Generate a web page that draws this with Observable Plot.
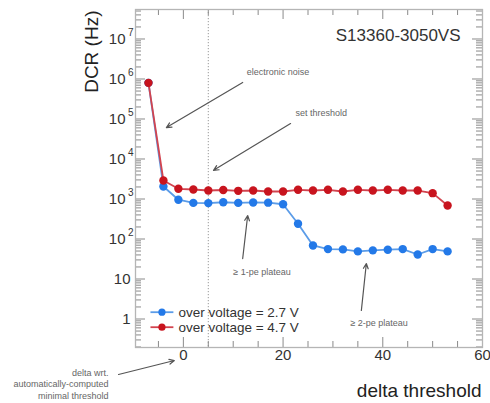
<!DOCTYPE html>
<html><head><meta charset="utf-8">
<script src="https://cdn.jsdelivr.net/npm/d3@7"></script>
<script src="https://cdn.jsdelivr.net/npm/@observablehq/plot@0.6"></script>
<style>html,body{margin:0;padding:0;background:#fff;} #chart{width:490px;height:403px;}</style>
</head><body><div id="chart"></div>
<script>
// ---- data ----
const thresholds = [-7,-4,-1,2,5,8,11,14,17,20,23,26,29,32,35,38,41,44,47,50,53];
const dcr27 = [8e5,2050,960,800,790,830,800,820,810,740,240,69,56,55,49,52,54,56,41,56,49];
const dcr47 = [8e5,2900,1800,1730,1630,1680,1600,1630,1540,1540,1700,1630,1700,1540,1700,1630,1700,1630,1630,1400,690];
const seriesNames = ["over voltage = 2.7 V","over voltage = 4.7 V"];
const xMajorTicks = [0,20,40,60];
const xMinorTicks = [-5,5,10,15,25,30,35,45,50,55];
const yMajorTicks = [1,10,100,1e3,1e4,1e5,1e6,1e7];
const yTickBase = ["1","10","10","10","10","10","10","10"];
const yTickExp = ["","","2","3","4","5","6","7"];
const setThreshold = [5];

// ---- annotations (data coordinates) ----
const notesStart = [
  {x:12.7, y:1.45e6, text:"electronic noise"},
  {x:22.5, y:1.37e5, text:"set threshold"},
  {x:10.0, y:14.5, text:"\u2265 1-pe plateau"},
  {x:33.5, y:0.785, text:"\u2265 2-pe plateau"}
];
const notesEnd = [
  {x:-15.0, y:0.0244, text:"delta wrt.\nautomatically-computed\nminimal threshold"}
];
const arrows = [
  {x1:11.9, y1:8.2e5, x2:-3.4, y2:6.1e4},
  {x1:21.5, y1:7.7e4, x2:6.05, y2:5.2e3},
  {x1:11.9, y1:32.5, x2:12.9, y2:387},
  {x1:35.7, y1:1.63, x2:36.7, y2:24.4},
  {x1:-13.0, y1:0.041, x2:-1.8, y2:0.0918}
];
const legendRows = [
  {y:1.48, name:seriesNames[0], line:"#5b9ce8", dot:"#2379e8"},
  {y:0.624, name:seriesNames[1], line:"#d2444f", dot:"#c8141e"}
];

const W=490, H=403, mL=135, mT=9, mR=8, mB=56;
const fw = W-mL-mR, fh = H-mT-mB;
const yMinor = [];
for (let e=-1; e<=7; e++) for (let m=2; m<=9; m++) { const v=m*Math.pow(10,e); if (v>0.194 && v<5.46e7) yMinor.push(v); }

const tickCol = "#8a8a8a";
const chart = Plot.plot({
  width: W, height: H,
  marginLeft: mL, marginTop: mT, marginRight: mR, marginBottom: mB,
  style: {fontFamily: "'Liberation Sans', Arial, Helvetica, sans-serif", background: "#fff"},
  x: {domain: [-9.6, 60], axis: null},
  y: {type: "log", domain: [0.194, 5.46e7], axis: null},
  marks: [
    Plot.ruleX(setThreshold, {x: d=>d, stroke: "#9a9a9a", strokeDasharray: "1.2,1.8", strokeWidth: 1}),
    // ticks (inward, mirrored)
    Plot.tickX(xMajorTicks, {x: d=>d, insetTop: fh-10, stroke: tickCol}),
    Plot.tickX(xMinorTicks, {x: d=>d, insetTop: fh-6, stroke: tickCol}),
    Plot.tickX(xMajorTicks, {x: d=>d, insetBottom: fh-10, stroke: tickCol}),
    Plot.tickX(xMinorTicks, {x: d=>d, insetBottom: fh-6, stroke: tickCol}),
    Plot.tickY(yMajorTicks, {y: d=>d, insetRight: fw-10, stroke: tickCol}),
    Plot.tickY(yMinor, {y: d=>d, insetRight: fw-6, stroke: tickCol}),
    Plot.tickY(yMajorTicks, {y: d=>d, insetLeft: fw-10, stroke: tickCol}),
    Plot.tickY(yMinor, {y: d=>d, insetLeft: fw-6, stroke: tickCol}),
    Plot.frame({stroke: "#b5b5b5", strokeWidth: 1.3}),
    // tick labels
    Plot.text(xMajorTicks, {x: d=>d, text: d=>String(d), frameAnchor: "bottom", dy: 12, fontSize: 15, fill: "#333"}),
    Plot.text(yMajorTicks, {y: d=>d, text: (d,i)=>yTickBase[i], filter: (d,i)=>yTickExp[i]==="", frameAnchor: "left", textAnchor: "end", dx: -5, fontSize: 15, fill: "#333"}),
    Plot.text(yMajorTicks, {y: d=>d, text: (d,i)=>yTickBase[i], filter: (d,i)=>yTickExp[i]!=="", frameAnchor: "left", textAnchor: "end", dx: -10, fontSize: 15, fill: "#333"}),
    Plot.text(yMajorTicks, {y: d=>d, text: (d,i)=>yTickExp[i], filter: (d,i)=>yTickExp[i]!=="", frameAnchor: "left", textAnchor: "end", dx: -2, dy: -6, fontSize: 10, fill: "#333"}),
    // axis titles
    Plot.text(["DCR (Hz)"], {text: d=>d, frameAnchor: "top-left", rotate: -90, textAnchor: "end", lineAnchor: "middle", dx: -44, dy: 1, fontSize: 19, fill: "#222"}),
    Plot.text(["delta threshold"], {text: d=>d, frameAnchor: "bottom-right", textAnchor: "end", lineAnchor: "middle", dx: -1, dy: 43, fontSize: 19, fill: "#222"}),
    Plot.text(["S13360-3050VS"], {x: ()=>55.6, y: ()=>1.22e7, text: d=>d, textAnchor: "end", lineAnchor: "middle", fontSize: 17, fill: "#333"}),
    // series
    Plot.line(thresholds, {x: d=>d, y: (d,i)=>dcr27[i], stroke: "#5b9ce8", strokeWidth: 1.8}),
    Plot.dot(thresholds, {x: d=>d, y: (d,i)=>dcr27[i], r: 4.2, fill: "#2379e8"}),
    Plot.line(thresholds, {x: d=>d, y: (d,i)=>dcr47[i], stroke: "#d2444f", strokeWidth: 1.8}),
    Plot.dot(thresholds, {x: d=>d, y: (d,i)=>dcr47[i], r: 4.2, fill: "#c8141e"}),
    // legend
    Plot.link(legendRows, {x1: ()=>-6.6, x2: ()=>-2.0, y1: "y", y2: "y", stroke: "line", strokeWidth: 1.8}),
    Plot.dot(legendRows, {x: ()=>-4.3, y: "y", r: 3.6, fill: "dot"}),
    Plot.text(legendRows, {x: ()=>-1.0, y: "y", text: "name", textAnchor: "start", lineAnchor: "middle", fontSize: 13.5, fill: "#333"}),
    // annotations
    Plot.arrow(arrows, {x1: "x1", y1: "y1", x2: "x2", y2: "y2", stroke: "#555", strokeWidth: 1.2, headLength: 7, headAngle: 50}),
    Plot.text(notesStart, {x: "x", y: "y", text: "text", textAnchor: "start", lineAnchor: "middle", fontSize: 9, fill: "#666"}),
    Plot.text(notesEnd, {x: "x", y: "y", text: "text", textAnchor: "end", lineAnchor: "middle", fontSize: 9, lineHeight: 1.3, fill: "#666"}),
  ]
});
document.getElementById("chart").appendChild(chart);
</script>
</body></html>
